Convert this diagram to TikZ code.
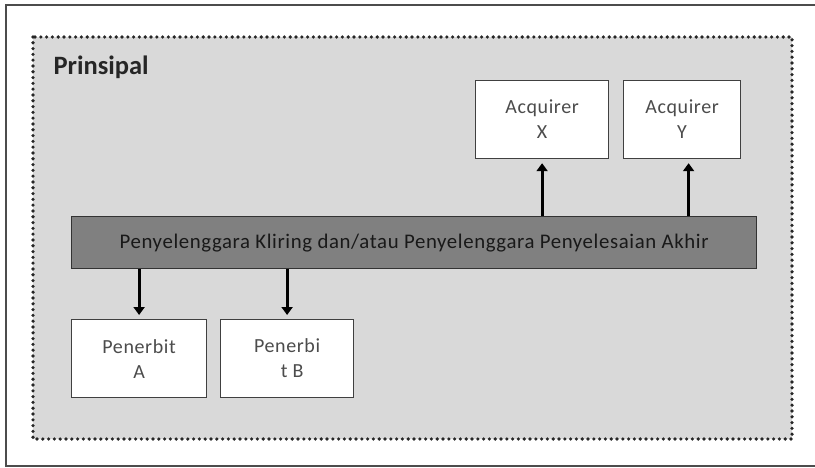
\documentclass[tikz,border=0pt]{standalone}
\usepackage{fontspec}
\setmainfont{Carlito}
\usetikzlibrary{arrows.meta}
\begin{document}
\begin{tikzpicture}[x=1pt,y=-1pt,
  whitebox/.style={draw=black!75,line width=1.2pt,fill=white,minimum width=#1,minimum height=78pt,align=center,font=\fontsize{20}{25}\selectfont\addfontfeatures{LetterSpace=3},text=black!70,inner sep=0pt},
  arr/.style={-{Triangle[length=8pt,width=11pt]},line width=2.8pt,shorten >=4pt}]
\useasboundingbox (0,0) rectangle (815,468);
\fill[white] (0,0) rectangle (815,468);
\draw[black!70,line width=1.5pt] (816,5) -- (6,5) -- (6,466) -- (816,466);
\fill[black!15] (33,37) rectangle (792,439);
\draw[black!85,line width=3.6pt,line cap=round,dash pattern=on 0pt off 5.8pt] (33,37) rectangle (792,439);
\node[anchor=west,font=\fontsize{26.5}{30}\selectfont\bfseries,text=black!85] (prin) at (50,67) {Prinsipal};
\node[draw=black!80,line width=1.2pt,fill=black!50,minimum width=685pt,minimum height=52pt,anchor=north west,font=\fontsize{20.8}{24}\selectfont\addfontfeatures{LetterSpace=3},text=black!90] (bar) at (71,216) {Penyelenggara Kliring dan/atau Penyelenggara Penyelesaian Akhir};
\node[whitebox=133pt,anchor=north west] (ax) at (475,80) {Acquirer\\X};
\node[whitebox=117pt,anchor=north west] (ay) at (623,80) {Acquirer\\Y};
\node[whitebox=135pt,anchor=north west] (pa) at (71,319) {Penerbit\\A};
\node[whitebox=133pt,anchor=north west] (pb) at (220,319) {Penerbi\\\ \ t B};
\draw[arr] (bar.north -| ax.south) -- (ax.south);
\coordinate (ayin) at ([xshift=6.5pt]ay.south);
\draw[arr] (bar.north -| ayin) -- (ayin);
\draw[arr] (bar.south -| pa.north) -- (pa.north);
\draw[arr] (bar.south -| pb.north) -- (pb.north);
\end{tikzpicture}
\end{document}
